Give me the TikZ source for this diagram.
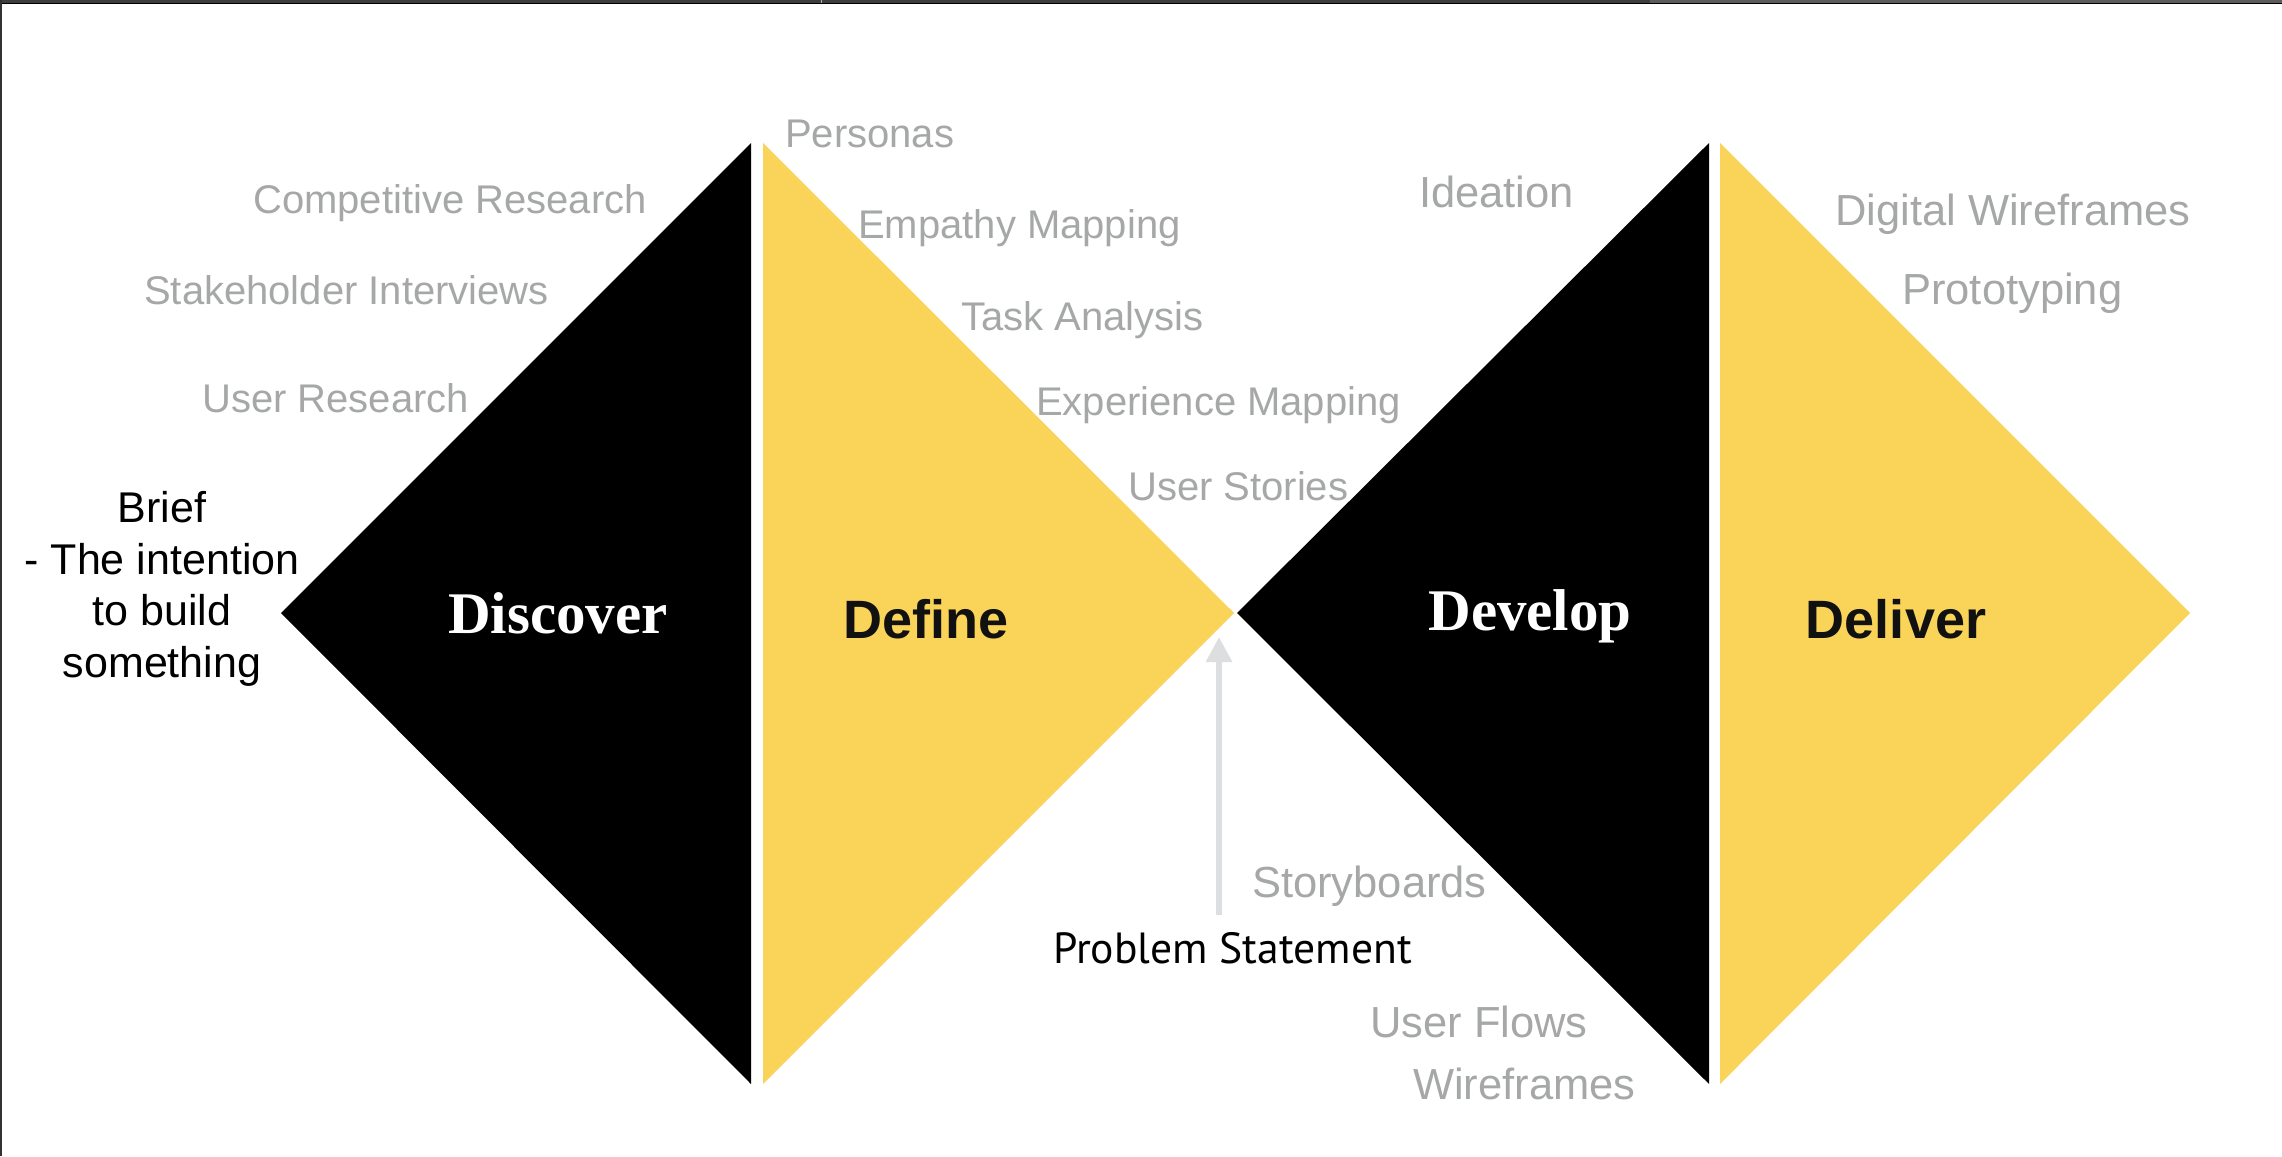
\documentclass[tikz,border=0pt]{standalone}
\usepackage{fontspec}
\setmainfont{Liberation Sans}
\newfontfamily\titleserif{Liberation Serif}
\newfontfamily\ptsans{PT Sans}
\usetikzlibrary{arrows.meta}
\definecolor{dyellow}{RGB}{249,212,89}
\definecolor{lblgray}{RGB}{166,168,168}
\definecolor{arrgray}{RGB}{221,222,224}
\definecolor{ink}{RGB}{17,17,17}
\definecolor{barA}{RGB}{62,62,62}
\definecolor{barB}{RGB}{92,92,92}
\begin{document}
\begin{tikzpicture}[x=1pt,y=-1pt,
  lbl/.style={anchor=base west, inner sep=0pt, text=lblgray, font=\fontsize{40}{48}\selectfont},
  biglbl/.style={lbl, font=\fontsize{43.5}{52}\selectfont},
  serifttl/.style={anchor=base, inner sep=0pt, text=white, font=\titleserif\bfseries\fontsize{59}{70}\selectfont},
  sansttl/.style={anchor=base, inner sep=0pt, text=ink, font=\bfseries\fontsize{54}{64}\selectfont},
  blackpart/.style={fill=black},
  yellowpart/.style={fill=dyellow}]
\useasboundingbox (0,0) rectangle (2282,1156);
\fill[white] (0,0) rectangle (2282,1156);
% window frame
\fill[barA] (0,0) rectangle (1650,3.3);
\fill[barB] (1650,0) rectangle (2282,3.3);
\fill[black] (0,3.3) rectangle (2282,4.3);
\fill[gray!60] (820.5,0) rectangle (822,3.3);
\fill[barA!80!black] (0,0) rectangle (2.3,1156);
% diamonds
\fill[blackpart] (281,613) -- (751,143) -- (751,1084) -- cycle;
\fill[yellowpart] (763,143) -- (1234,613) -- (763,1084) -- cycle;
\fill[blackpart] (1237,613) -- (1709,143) -- (1709,1084) -- cycle;
\fill[yellowpart] (1720,143) -- (2190,613) -- (1720,1084) -- cycle;
% titles
\node[serifttl] (discover) at (558,633) {Discover};
\node[sansttl] (define) at (926,638) {Define};
\node[serifttl] (develop) at (1530,630) {Develop};
\node[sansttl] (deliver) at (1896,638) {Deliver};
% brief
\node[anchor=north, inner sep=0pt, align=center, text=black,
      font=\fontsize{43}{51.5}\selectfont] (brief) at (162,491.5)
      {Brief\\- The intention\\to build\\something};
% labels
\node[lbl] (comp) at (253,213) {Competitive Research};
\node[lbl] (stake) at (144,304) {Stakeholder Interviews};
\node[lbl] (ures) at (202,412) {User Research};
\node[lbl] (pers) at (785,147) {Personas};
\node[lbl] (emp) at (858,238) {Empathy Mapping};
\node[lbl] (task) at (961,330) {Task Analysis};
\node[lbl] (exp) at (1036,415) {Experience Mapping};
\node[lbl] (ustor) at (1128,500) {User Stories};
\node[biglbl] (idea) at (1419,207) {Ideation};
\node[biglbl] (dwire) at (1835,225) {Digital Wireframes};
\node[biglbl] (proto) at (1902,304) {Prototyping};
\node[biglbl] (story) at (1252,897) {Storyboards};
\node[biglbl] (uflow) at (1370,1037) {User Flows};
\node[biglbl] (wire) at (1413,1099) {Wireframes};
% problem statement
\node[anchor=base west, inner sep=0pt, text=black, font=\ptsans\fontsize{43.6}{52}\selectfont]
  (prob) at (1053,963) {Problem Statement};
\coordinate (arrS) at (1219,915);
\coordinate (arrT) at (1219,637);
\draw[arrgray, line width=6pt, -{Triangle[length=25pt,width=25pt]}] (arrS) -- (arrT);
\end{tikzpicture}
\end{document}
